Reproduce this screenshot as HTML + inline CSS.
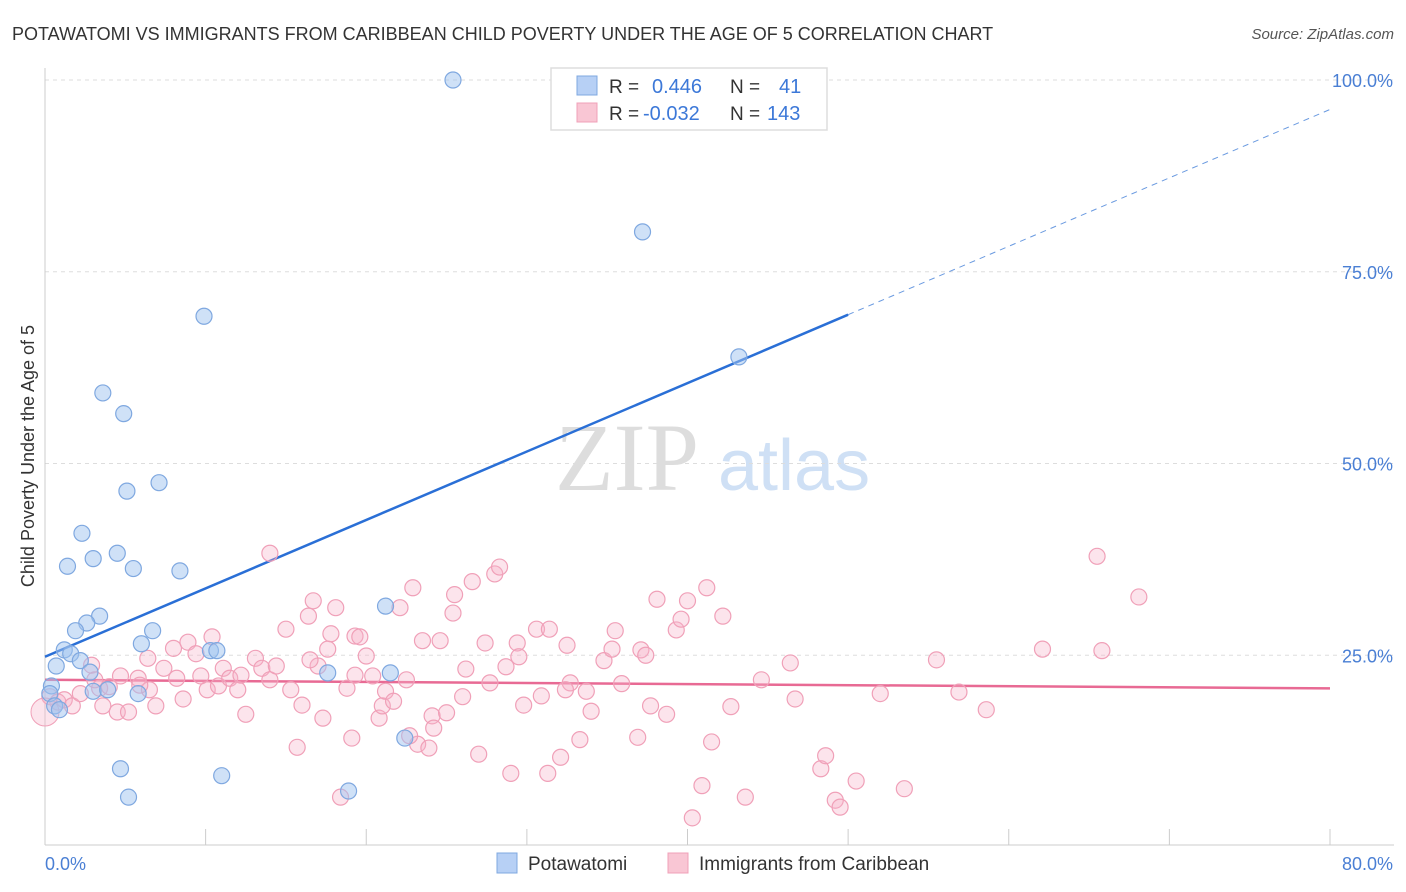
<!DOCTYPE html>
<html><head><meta charset="utf-8"><style>
body{margin:0;background:#fff;font-family:"Liberation Sans",sans-serif}
svg{display:block}
</style></head><body>
<svg id="chart" width="1406" height="892" xmlns="http://www.w3.org/2000/svg">
<text x="12" y="40" font-size="18" fill="#333">POTAWATOMI VS IMMIGRANTS FROM CARIBBEAN CHILD POVERTY UNDER THE AGE OF 5 CORRELATION CHART</text>
<text x="1394" y="39" font-size="15" fill="#555" font-style="italic" text-anchor="end">Source: ZipAtlas.com</text>
<g>
<text x="555" y="490" font-size="96" fill="#ddd" font-family="Liberation Serif,serif">ZIP</text>
<text x="718" y="490" font-size="72" fill="#cfe0f5">atlas</text>
</g>
<g id="grid"></g>
<g id="axes"></g>
<g id="trend"></g>
<g id="pts"></g>
<text transform="translate(34,456) rotate(-90)" font-size="18" fill="#333" text-anchor="middle">Child Poverty Under the Age of 5</text>
<g>
<rect x="551" y="68" width="276" height="62" fill="#fff" stroke="#ddd" stroke-width="1.5"/>
<rect x="577" y="76" width="20" height="19" fill="#b7d0f5" stroke="#7fa8e0"/>
<rect x="577" y="103" width="20" height="19" fill="#f9c6d4" stroke="#f0a0b8"/>
<text x="609" y="93" font-size="19" fill="#333">R = </text><text x="652" y="93" font-size="20" fill="#3c78d8">0.446</text>
<text x="730" y="93" font-size="19" fill="#333">N = </text><text x="779" y="93" font-size="20" fill="#3c78d8">41</text>
<text x="609" y="120" font-size="19" fill="#333">R = </text><text x="643" y="120" font-size="20" fill="#3c78d8">-0.032</text>
<text x="730" y="120" font-size="19" fill="#333">N = </text><text x="767" y="120" font-size="20" fill="#3c78d8">143</text>
</g>
<g>
<rect x="497" y="853" width="20" height="20" fill="#b7d0f5" stroke="#7fa8e0"/>
<text x="528" y="870" font-size="19" fill="#333">Potawatomi</text>
<rect x="668" y="853" width="20" height="20" fill="#f9c6d4" stroke="#f0a0b8"/>
<text x="699" y="870" font-size="19" fill="#333">Immigrants from Caribbean</text>
</g>
</svg>
<script>
const yTicks=[25,50,75,100];
const yTickLabels=["25.0%","50.0%","75.0%","100.0%"];
const xTickVals=[0,10,20,30,40,50,60,70,80];
const blueX=[25.4,37.2,9.9,43.2,3.6,4.9,5.1,7.1,2.3,1.4,3.0,4.5,5.5,8.4,3.4,2.6,1.9,6.7,21.2,1.2,1.6,2.2,0.7,6.0,10.3,10.7,17.6,21.5,0.4,0.3,3.0,3.9,5.8,0.6,0.9,22.4,4.7,11.0,5.2,18.9,2.8];
const blueY=[100,80.2,69.2,63.9,59.2,56.5,46.4,47.5,40.9,36.6,37.6,38.3,36.3,36.0,30.1,29.2,28.2,28.2,31.4,25.7,25.2,24.3,23.6,26.5,25.6,25.6,22.7,22.7,21.0,20.0,20.3,20.5,20.0,18.4,17.9,14.2,10.2,9.3,6.5,7.3,22.8];
const pinkX=[0.3,0.8,1.2,1.7,2.2,2.9,3.4,4.0,3.6,4.5,5.2,5.8,6.4,6.5,6.9,7.4,8.0,8.2,8.6,8.9,9.4,9.7,10.1,10.4,10.8,11.1,11.5,12.0,12.2,12.5,13.1,13.5,14.0,14.4,15.0,15.3,15.7,16.0,16.4,16.7,17.0,17.3,17.6,17.8,18.1,18.4,18.8,19.1,19.3,19.6,20.0,20.4,20.8,21.0,21.2,21.7,22.1,22.5,22.9,23.2,23.5,23.9,24.1,24.2,24.6,25.0,25.4,25.5,26.0,26.2,26.6,27.0,27.4,27.7,28.0,28.3,28.7,29.0,29.4,29.5,29.8,30.6,30.9,31.3,31.4,32.1,32.5,32.7,33.3,33.7,34.0,34.8,35.3,35.5,35.9,36.9,37.1,37.4,37.7,38.1,38.7,39.3,39.6,40.0,40.3,40.9,41.2,41.5,42.2,42.7,43.6,44.6,46.4,46.7,48.3,48.6,49.2,49.5,50.5,52.0,53.5,55.5,56.9,58.6,62.1,65.5,65.8,68.1,14.0,19.3,22.7,32.4,16.5,3.1,4.7,5.9];
const pinkY=[19.6,18.9,19.2,18.4,20.0,23.7,20.7,20.9,18.4,17.6,17.6,22.0,24.6,20.5,18.4,23.3,25.9,22.0,19.3,26.7,25.2,22.3,20.5,27.4,21.0,23.3,22.0,20.5,22.4,17.3,24.6,23.3,21.8,23.6,28.4,20.5,13.0,18.5,30.1,32.1,23.6,16.8,25.8,27.8,31.2,6.5,20.7,14.2,27.5,27.4,24.9,22.3,16.8,18.4,20.3,19.0,31.2,21.8,33.8,13.4,26.9,12.9,17.1,15.5,26.9,17.5,30.5,32.9,19.6,23.2,34.6,12.1,26.6,21.4,35.6,36.5,23.5,9.6,26.6,24.8,18.5,28.4,19.7,9.6,28.4,11.7,26.3,21.4,14.0,20.3,17.7,24.3,25.8,28.2,21.3,14.3,25.7,25.0,18.4,32.3,17.3,28.3,29.7,32.1,3.8,8.0,33.8,13.7,30.1,18.3,6.5,21.8,24.0,19.3,10.2,11.9,6.1,5.2,8.6,20.0,7.6,24.4,20.2,17.9,25.8,37.9,25.6,32.6,38.3,22.4,14.5,20.5,24.4,21.8,22.3,21.1];
const blueTrend=[24.8,0.892]; // intercept, slope
const pinkTrend=[21.8,-0.014];
const X0=45,X1=1330,Y0=847,PY=7.67;
const sx=v=>X0+(X1-X0)*v/80, sy=v=>Y0-v*PY;
const NS="http://www.w3.org/2000/svg";
function mk(tag,at,parent){const e=document.createElementNS(NS,tag);for(const k in at)e.setAttribute(k,at[k]);document.getElementById(parent).appendChild(e);return e;}
yTicks.forEach((t,i)=>{
 const l=mk('line',{x1:X0,x2:1394,y1:sy(t),y2:sy(t),stroke:'#ddd','stroke-dasharray':'4,4'},'grid');
 
 
 const tx=mk('text',{x:1393,y:sy(t)+7,'font-size':18,fill:'#4a7fd4','text-anchor':'end'},'grid');
 
 
 tx.textContent=yTickLabels[i];
});
const ax=mk('line',{x1:X0,x2:X0,y1:68,y2:845,stroke:'#ccc'},'axes');


const bx=mk('line',{x1:X0,x2:1394,y1:845,y2:845,stroke:'#ccc'},'axes');


xTickVals.forEach(v=>{const t=mk('line',{x1:sx(v),x2:sx(v),y1:829,y2:845,stroke:'#ccc'},'axes');
 
 });
const xl=mk('text',{x:45,y:870,'font-size':18,fill:'#4a7fd4'},'axes');xl.textContent='0.0%';


const xr=mk('text',{x:1393,y:870,'font-size':18,fill:'#4a7fd4','text-anchor':'end'},'axes');xr.textContent='80.0%';


pinkX.forEach((x,i)=>{const c=mk('circle',{cx:sx(x),cy:sy(pinkY[i]),r:8,fill:'rgba(246,178,200,0.35)',stroke:'#f0a0b8','stroke-width':1.2},'pts');
 
 });
const big=mk('circle',{cx:sx(0),cy:sy(17.6),r:14,fill:'rgba(246,178,200,0.35)',stroke:'#f0a0b8'},'pts');


blueX.forEach((x,i)=>{const c=mk('circle',{cx:sx(x),cy:sy(blueY[i]),r:8,fill:'rgba(160,195,240,0.5)',stroke:'#7fa8e0','stroke-width':1.2},'pts');
 
 });
const bl=v=>blueTrend[0]+blueTrend[1]*v, pl=v=>pinkTrend[0]+pinkTrend[1]*v;
const t1=mk('line',{x1:sx(0),y1:sy(bl(0)),x2:sx(50),y2:sy(bl(50)),stroke:'#2a6fd6','stroke-width':2.5},'trend');


const t2=mk('line',{x1:sx(50),y1:sy(bl(50)),x2:sx(80),y2:sy(bl(80)),stroke:'#6a9ae0','stroke-width':1,'stroke-dasharray':'6,5'},'trend');


const t3=mk('line',{x1:sx(0),y1:sy(pl(0)),x2:sx(80),y2:sy(pl(80)),stroke:'#e86a94','stroke-width':2.5},'trend');


</script>
</body></html>
